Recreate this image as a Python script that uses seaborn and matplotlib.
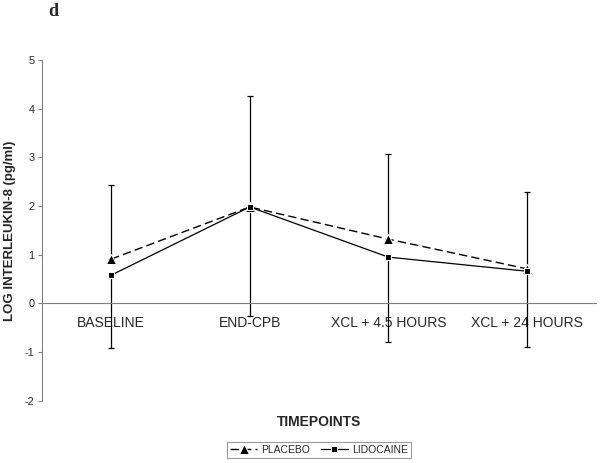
import matplotlib
matplotlib.use("Agg")
import matplotlib.pyplot as plt
import pandas as pd
import seaborn as sns

sns.set_style("white")
plt.rcParams["font.family"] = ["Liberation Sans", "DejaVu Sans"]

timepoints = ["BASELINE", "END-CPB", "XCL + 4.5 HOURS", "XCL + 24 HOURS"]
placebo = [0.91, 1.98, 1.32, 0.71]
lidocaine = [0.58, 1.98, 0.95, 0.66]
placebo_err_up = [1.52, 2.29, 1.75, 1.57]
lidocaine_err_down = [1.50, 2.25, 1.74, 1.55]
y_ticks = [-2, -1, 0, 1, 2, 3, 4, 5]

df = pd.DataFrame({"timepoint": timepoints, "PLACEBO": placebo, "LIDOCAINE": lidocaine})
pos = list(range(len(timepoints)))

fig = plt.figure(figsize=(6.01, 4.63), dpi=100)
ax = fig.add_axes([0.0699, 0.1346, 0.9218, 0.7358])

# error bars: upper for placebo, lower for lidocaine (Excel style)
ax.errorbar(pos, placebo, yerr=[[0] * 4, placebo_err_up], fmt="none",
            ecolor="black", elinewidth=0.9, capsize=2.5, capthick=0.9)
ax.errorbar(pos, lidocaine, yerr=[lidocaine_err_down, [0] * 4], fmt="none",
            ecolor="black", elinewidth=0.9, capsize=2.5, capthick=0.9)

sns.lineplot(x=pos, y=df["PLACEBO"], ax=ax, color="black", linewidth=1.0,
             linestyle=(0, (6, 3)), marker="^", markersize=6.5, label="PLACEBO")
sns.lineplot(x=pos, y=df["LIDOCAINE"], ax=ax, color="black", linewidth=0.9,
             marker="s", markersize=4.5, label="LIDOCAINE")

ax.set_xlim(-0.5, 3.5)
ax.set_ylim(-2, 5)
ax.set_yticks(y_ticks)
ax.set_yticklabels([str(v) for v in y_ticks], fontsize=7.8)
ax.set_xticks(pos)
ax.set_xticklabels(timepoints, fontsize=7.5)
ax.set_xticks([-0.5, 0.5, 1.5, 2.5, 3.5], minor=True)
ax.tick_params(axis="x", which="major", length=0, pad=9)
ax.tick_params(axis="x", which="minor", length=3, direction="out", color="#808080", width=0.8)
ax.tick_params(axis="y", length=3, direction="out", color="#808080", width=0.8, pad=2.5, left=True)

for side in ["top", "right"]:
    ax.spines[side].set_visible(False)
for side in ["left", "bottom"]:
    ax.spines[side].set_color("#808080")
    ax.spines[side].set_linewidth(0.8)
ax.spines["bottom"].set_position(("data", 0))

ax.set_xlabel("")
ax.set_ylabel("LOG INTERLEUKIN-8 (pg/ml)", fontsize=9.5, fontweight="bold", labelpad=6)
fig.text(0.531, 1 - 422 / 463, "TIMEPOINTS", ha="center", va="center",
         fontsize=10, fontweight="bold")
fig.text(48 / 601, 1 - 12 / 463, "d", ha="left", va="center", fontsize=13,
         fontweight="bold", family=["Liberation Serif", "DejaVu Serif"])

ax.get_legend().remove()
handles, labels = ax.get_legend_handles_labels()
leg = fig.legend(handles, labels, loc="center", bbox_to_anchor=(0.531, 1 - 450 / 463),
                 ncol=2, fontsize=7.5, frameon=True, fancybox=False,
                 handlelength=2.6, columnspacing=1.0, borderpad=0.3, handletextpad=0.4)
leg.get_frame().set_edgecolor("#808080")
leg.get_frame().set_linewidth(0.8)

fig.savefig("out.png", dpi=100)
